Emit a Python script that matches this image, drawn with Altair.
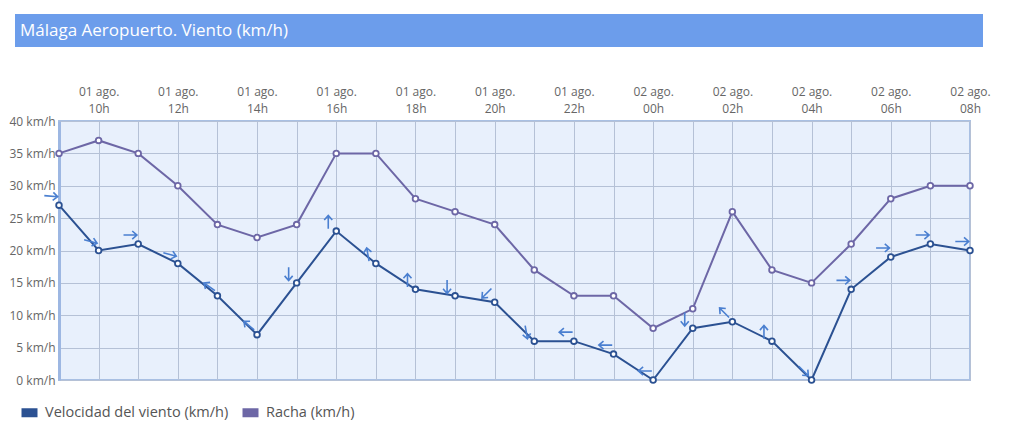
import altair as alt
import pandas as pd
import json

# ---- data ----
days = ["01 ago."] * 15 + ["02 ago."] * 9
hours = ["09h", "10h", "11h", "12h", "13h", "14h", "15h", "16h", "17h", "18h", "19h",
         "20h", "21h", "22h", "23h", "00h", "01h", "02h", "03h", "04h", "05h", "06h",
         "07h", "08h"]
wind = [27, 20, 21, 18, 13, 7, 15, 23, 18, 14, 13, 12, 6, 6, 4, 0, 8, 9, 6, 0, 14, 19, 21, 20]
gust = [35, 37, 35, 30, 24, 22, 24, 35, 35, 28, 26, 24, 17, 13, 13, 8, 11, 26, 17, 15, 21, 28, 30, 30]
# direction the wind arrow points (degrees clockwise from east)
arrow_dir = [5, 15, 0, 15, 215, 220, 90, 270, 260, 270, 90, 135, 80, 180, 180, 180,
             90, 225, 270, 45, 0, 0, 0, 0]

S_WIND = "Velocidad del viento (km/h)"
S_GUST = "Racha (km/h)"
TITLE = "Málaga Aeropuerto. Viento (km/h)"

idx = list(range(len(hours)))
long_df = pd.DataFrame(
    {"i": idx * 2, "v": gust + wind, "serie": [S_GUST] * len(idx) + [S_WIND] * len(idx)}
)
wind_df = pd.DataFrame({"i": idx, "v": wind, "dir": arrow_dir})

FONT = "Open Sans"
W, H = 911, 259

label_expr = (
    "datum.value % 2 == 1 ? [" + json.dumps(days) + "[datum.value], "
    + json.dumps(hours) + "[datum.value]] : ''"
)

x_axis = alt.Axis(
    orient="top", values=idx, labelExpr=label_expr, title=None,
    grid=True, gridColor="#b5c1d6", gridWidth=1, domain=False, ticks=False,
    labelFont=FONT, labelFontSize=12, labelColor="#666666", labelPadding=23,
    labelLineHeight=17, labelAngle=0, labelAlign="center", labelBaseline="bottom",
    labelOverlap=False, labelFlush=False,
)
y_axis = alt.Axis(
    values=list(range(0, 41, 5)), labelExpr="datum.value + ' km/h'", title=None,
    grid=True, gridColor="#b5c1d6", gridWidth=1, domain=True, domainColor="#9db7e2",
    domainWidth=3, ticks=False, labelFont=FONT, labelFontSize=12,
    labelColor="#666666", labelPadding=4, labelOverlap=False,
)
x_scale = alt.Scale(domain=[0, len(idx) - 1], nice=False, zero=False)
y_scale = alt.Scale(domain=[0, 40], nice=False)


def xe():
    return alt.X("i:Q", scale=x_scale, axis=x_axis)


def ye():
    return alt.Y("v:Q", scale=y_scale, axis=y_axis)


color_scale = alt.Scale(domain=[S_WIND, S_GUST], range=["#2b5192", "#6d67a6"])
color_legend = alt.Legend(
    orient="none", legendX=-42, legendY=279, direction="horizontal", title=None,
    labelFont=FONT, labelFontSize=14.5, labelColor="#555555", columnPadding=-5,
    symbolOffset=0, labelOffset=3, labelLimit=0,
)

base = alt.Chart(long_df)

lines = base.mark_line(strokeWidth=2).encode(
    x=xe(), y=ye(),
    color=alt.Color("serie:N", scale=color_scale, legend=color_legend),
    order=alt.Order("i:Q"),
)
points = base.mark_point(
    shape="circle", filled=False, fill="white", size=32, strokeWidth=1.8, opacity=1
).encode(
    x=xe(), y=ye(),
    color=alt.Color("serie:N", scale=color_scale, legend=color_legend),
)

arrows = alt.Chart(wind_df).mark_point(
    shape="M-1,0L1,0M0.3,-0.6L1,0L0.3,0.6",
    filled=False, color="#4a7fd0", strokeWidth=1.6, size=180, opacity=1,
    xOffset=-8, yOffset=-9,
).encode(x=xe(), y=ye(), angle=alt.Angle("dir:Q", scale=None))

header_df = pd.DataFrame({"t": [TITLE]})
header_bar = alt.Chart(header_df).mark_rect(color="#6c9deb").encode(
    x=alt.value(-44), x2=alt.value(924), y=alt.value(-107), y2=alt.value(-74)
)
header_text = alt.Chart(header_df).mark_text(
    align="left", baseline="middle", color="white", font=FONT, fontSize=17
).encode(text="t:N", x=alt.value(-39), y=alt.value(-90))

chart = (
    alt.layer(lines, arrows, points, header_bar, header_text)
    .resolve_scale(color="shared")
    .properties(
        width=W, height=H,
        autosize=alt.AutoSizeParams(type="none"),
        padding={"left": 51, "top": 113, "right": 39, "bottom": 55},
        background="white",
    )
    .configure_view(fill="#e8f0fc", stroke="#a9c0e3", strokeWidth=2)
    .configure_legend(symbolType="M-1,0H1", symbolSize=256, symbolStrokeWidth=9)
)

chart.save("out.html", embed_options={"renderer": "svg", "actions": False})
